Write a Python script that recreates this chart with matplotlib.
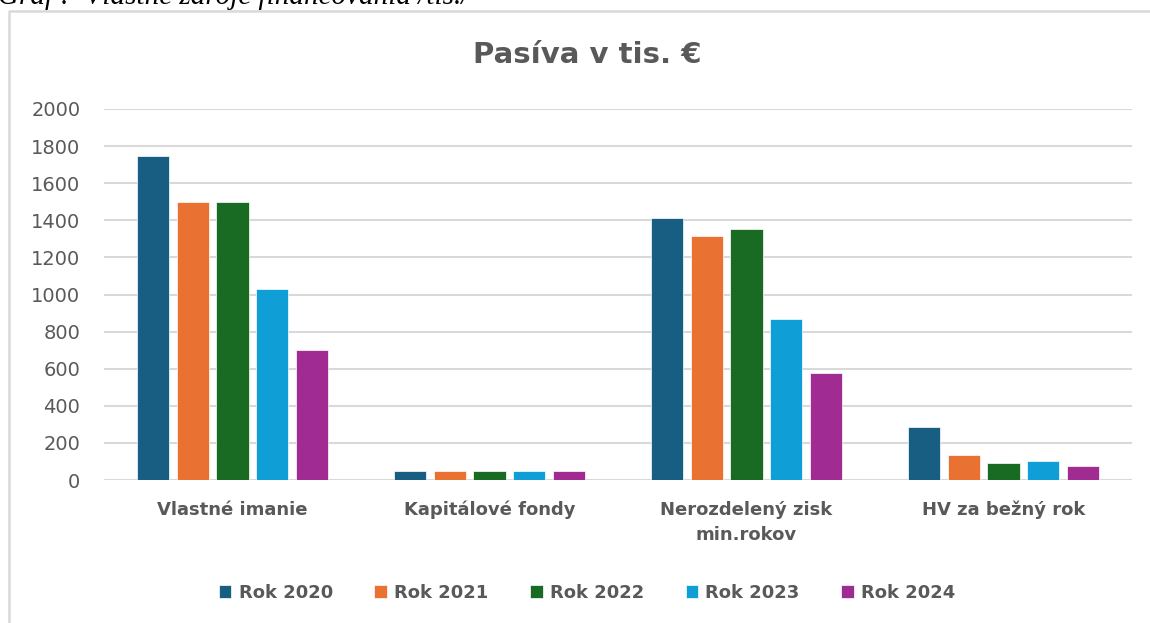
import numpy as np
from matplotlib import pyplot as plt
from matplotlib.lines import Line2D

categories = ['Vlastné imanie', 'Kapitálové fondy', 'Nerozdelený zisk\nmin.rokov', 'HV za bežný rok']
years = ['Rok 2020', 'Rok 2021', 'Rok 2022', 'Rok 2023', 'Rok 2024']
rok_2020 = [1745, 48, 1410, 285]
rok_2021 = [1500, 48, 1315, 135]
rok_2022 = [1500, 48, 1355, 90]
rok_2023 = [1030, 48, 870, 100]
rok_2024 = [700, 48, 575, 75]
series = [rok_2020, rok_2021, rok_2022, rok_2023, rok_2024]
colors = ['#175e82', '#e97132', '#196b24', '#0f9ed5', '#a02b93']
yticks = [0, 200, 400, 600, 800, 1000, 1200, 1400, 1600, 1800, 2000]

W, H = 1150, 623
fig = plt.figure(figsize=(W / 100, H / 100), dpi=100)
plt.rcParams['font.family'] = ['DejaVu Sans']
grey = '#595959'

# chart border: only top and left edges are in the screenshot
fig.lines.append(Line2D([9 / W, 9 / W, 1.05], [-0.05, 1 - 11 / H, 1 - 11 / H], transform=fig.transFigure,
                        color='#d9d9d9', linewidth=1.8))

# caption of the document, clipped at the top
fig.text(-2 / W, 1 - 4 / H, 'Graf :  Vlastné zdroje financovania /tis./', family='Liberation Serif',
         style='italic', fontsize=21, va='baseline', ha='left', color='black')

ax = fig.add_axes([104 / W, 1 - 480 / H, (1132 - 104) / W, (480 - 109) / H])
x = np.arange(len(categories))
width = 0.125
pitch = 0.154
for i, (vals, lab, c) in enumerate(zip(series, years, colors)):
    ax.bar(x + (i - 2) * pitch, vals, width, color=c, label=lab, edgecolor='white', linewidth=0.5, zorder=3)

ax.set_xlim(-0.5, 3.5)
ax.set_ylim(0, 2000)
ax.set_yticks(yticks)
ax.set_yticklabels([str(t) for t in yticks], fontsize=14, color=grey)
ax.set_xticks(x)
ax.set_xticklabels(categories, fontsize=13, fontweight='bold', color=grey, linespacing=1.5, va='top')
ax.tick_params(axis='both', length=0)
ax.tick_params(axis='y', pad=17)
ax.tick_params(axis='x', pad=15)
ax.grid(axis='y', color='#d9d9d9', linewidth=1.5, zorder=0)
for s in ax.spines.values():
    s.set_visible(False)

fig.text(0.5 * (470 + 705) / W, 1 - 55 / H, 'Pasíva v tis. €', fontsize=21, fontweight='bold',
         color=grey, ha='center', va='center')

leg = fig.legend(loc='center', bbox_to_anchor=(587 / W, 1 - 593 / H), ncol=5, frameon=False,
                 prop={'size': 13, 'weight': 'bold'}, handlelength=0.7, handleheight=0.7,
                 handletextpad=0.4, columnspacing=2.3)
for t in leg.get_texts():
    t.set_color(grey)

plt.savefig('out.png', dpi=100)
